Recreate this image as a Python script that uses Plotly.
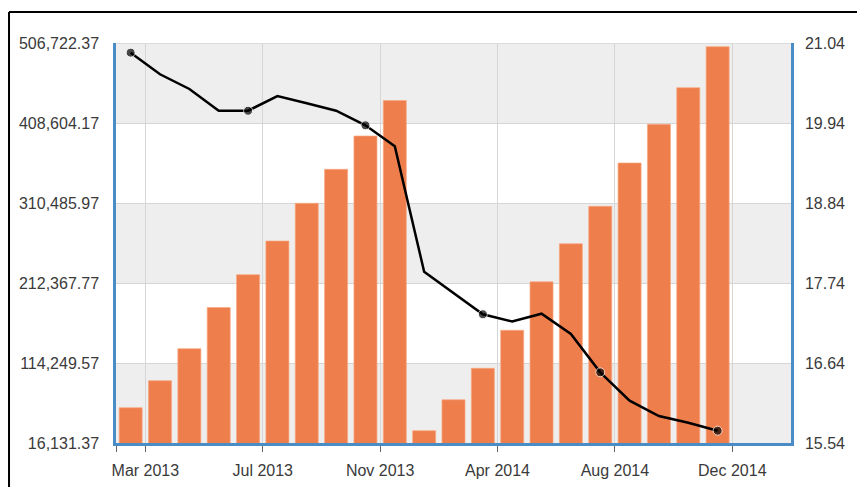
import plotly.graph_objects as go

# ---- data ----
bar_values = [59426, 92541, 131788, 182319, 222547, 263880, 310118, 351818, 392660, 436200,
              31217, 69115, 107749, 154355, 213839, 260445, 306438, 359545, 407010, 451899, 502184]
line_values = [20.907, 20.61, 20.408, 20.109, 20.109, 20.311, 20.211, 20.109, 19.908, 19.62,
               17.895, 17.60, 17.31, 17.21, 17.318, 17.039, 16.512, 16.122, 15.911, 15.819, 15.709]
x_labels = ["Mar 2013", "Jul 2013", "Nov 2013", "Apr 2014", "Aug 2014", "Dec 2014"]
left_ticks = [16131.37, 114249.57, 212367.77, 310485.97, 408604.17, 506722.37]
right_ticks = [15.54, 16.64, 17.74, 18.84, 19.94, 21.04]

xs = list(range(len(bar_values)))
marker_sizes = [9 if i % 4 == 0 else 0 for i in xs]

BLUE = "#4a8cc6"
GRID = "#d6d6d6"
FONT = dict(family="Liberation Sans, Arial, sans-serif", size=16, color="#3a3a3a")

fig = go.Figure()
fig.add_trace(go.Bar(x=xs, y=bar_values,
                     marker=dict(color="#EE7E4C", line=dict(width=1, color="rgba(250,170,130,0.7)")),
                     yaxis="y", showlegend=False))
fig.add_trace(go.Scatter(x=xs, y=line_values, mode="lines+markers", yaxis="y2",
                         line=dict(color="black", width=2.5),
                         marker=dict(size=marker_sizes, color="black"), showlegend=False))

# alternating bands
shapes = []
for i in range(0, len(left_ticks) - 1, 2):
    shapes.append(dict(type="rect", xref="paper", yref="y", x0=0, x1=1,
                       y0=left_ticks[i], y1=left_ticks[i + 1],
                       fillcolor="#eeeeee", line=dict(width=0), layer="below"))
# top grid line
shapes.append(dict(type="line", xref="paper", yref="y", x0=0, x1=1, y0=left_ticks[-1], y1=left_ticks[-1],
                   line=dict(color=GRID, width=1.5), layer="below"))
# outer frame (top & left)
shapes.append(dict(type="line", xref="paper", yref="paper", x0=-0.1585, x1=1.2, y0=1.0775, y1=1.0775,
                   line=dict(color="black", width=2)))
shapes.append(dict(type="line", xref="paper", yref="paper", x0=-0.1585, x1=-0.1585, y0=1.0775, y1=-0.2,
                   line=dict(color="black", width=2)))

tickvals_x = [-0.5] + [0.5 + 4 * i for i in range(len(x_labels))]
ticktext_x = [""] + x_labels

# the page body has an 8px default margin, so offsets are reduced by 8px
fig.update_layout(
    width=857, height=479,
    margin=dict(l=108, r=74, t=35, b=44),
    paper_bgcolor="white", plot_bgcolor="white",
    bargap=0.215,
    font=FONT,
    shapes=shapes,
    xaxis=dict(range=[-0.5, 22.5], tickvals=tickvals_x, ticktext=ticktext_x,
               showgrid=True, gridcolor=GRID, gridwidth=1,
               showline=True, linecolor=BLUE, linewidth=2.5,
               ticks="outside", ticklen=6, tickcolor="#666", tickwidth=1,
               ticklabelstandoff=5, zeroline=False, automargin=False),
    yaxis=dict(range=[left_ticks[0], left_ticks[-1]], tickvals=left_ticks,
               ticktext=[f"{v:,.2f}" for v in left_ticks],
               showgrid=True, gridcolor=GRID, gridwidth=1,
               showline=True, linecolor=BLUE, linewidth=2.5,
               ticks="", ticklabelstandoff=11, zeroline=False, automargin=False),
    yaxis2=dict(range=[right_ticks[0], right_ticks[-1]], tickvals=right_ticks,
                ticktext=[f"{v:.2f}" for v in right_ticks],
                overlaying="y", side="right", showgrid=False,
                showline=True, linecolor=BLUE, linewidth=2.5,
                ticks="", ticklabelstandoff=8, zeroline=False, automargin=False),
)

fig.write_html("out.html")
